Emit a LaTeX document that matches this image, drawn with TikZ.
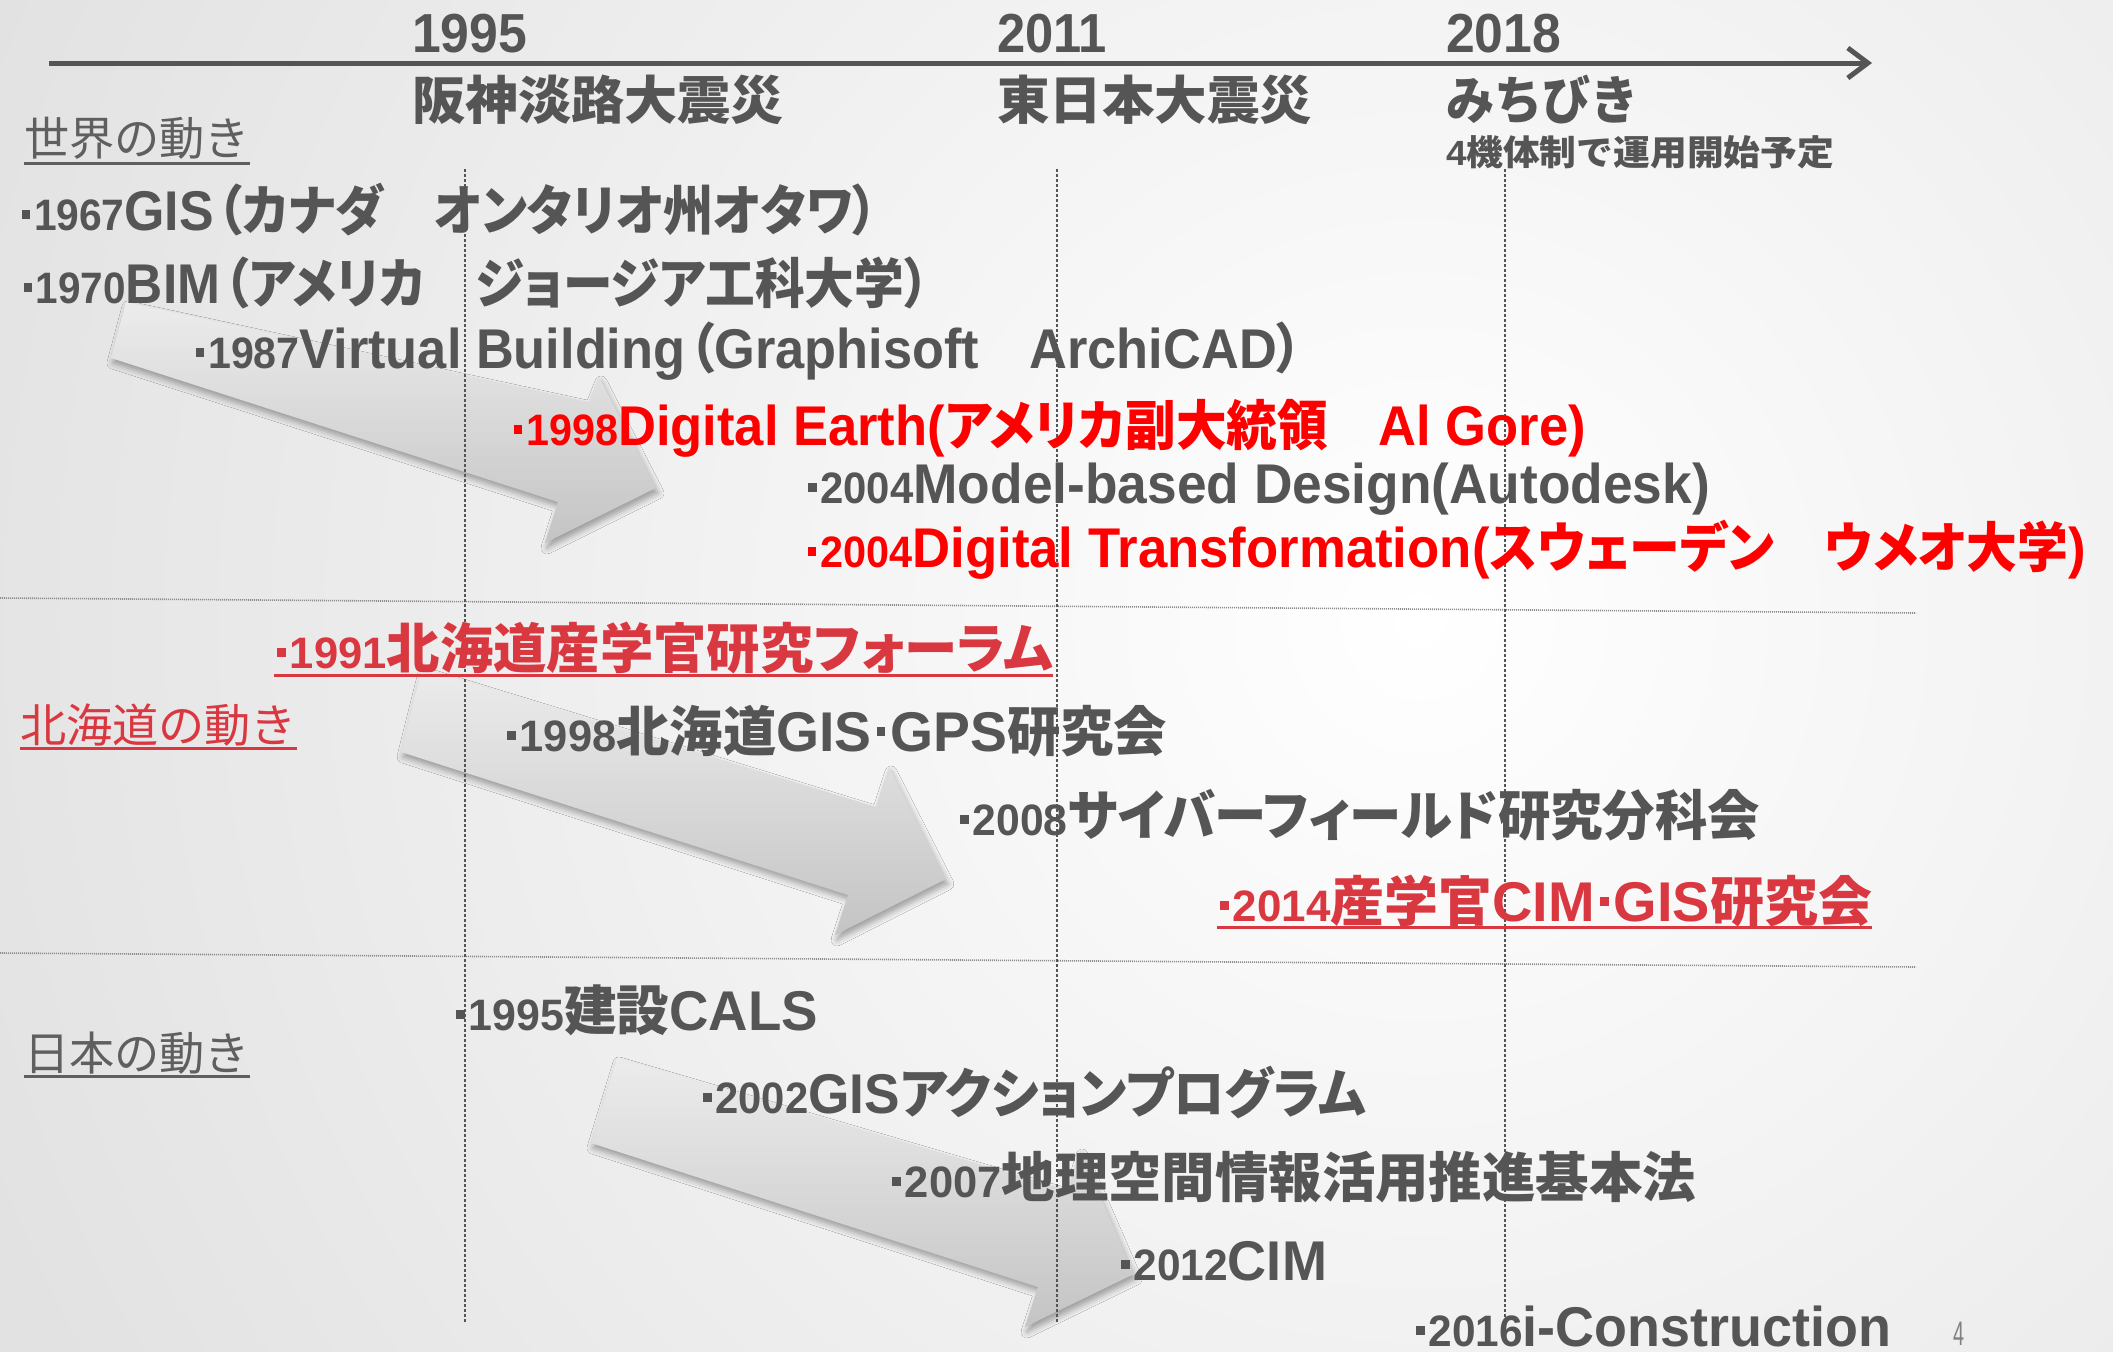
\documentclass[tikz,border=0pt]{standalone}
\usepackage{fontspec}
\usepackage{graphicx}
\setmainfont{Liberation Sans}
\newfontfamily\jp[RawFeature=+palt]{Noto Sans CJK JP}
\newfontfamily\jpl{Noto Sans CJK JP}
\usetikzlibrary{arrows.meta,shadows.blur}
\definecolor{tgray}{RGB}{85,85,85}
\definecolor{lgray}{RGB}{95,95,95}
\definecolor{tred}{RGB}{255,0,0}
\definecolor{hred}{RGB}{217,56,64}
\definecolor{bgout}{RGB}{226,226,226}
\definecolor{arrA}{RGB}{236,236,236}
\definecolor{arrB}{RGB}{196,196,196}
\newcommand\J[1]{{\fontsize{54}{54}\selectfont\jp #1}}
\newcommand\bul{\rule[11.5pt]{9pt}{9pt}\hspace{4pt}}
\newcommand\Yr[1]{{\fontsize{44}{44}\selectfont\bul #1}}
\newcommand\mdot{\hspace{5pt}\rule[15.5pt]{9pt}{9pt}\hspace{5pt}}
\newcommand\fitw[2]{\resizebox{#1pt}{\height}{#2}}
\tikzset{
  txt/.style={anchor=base west, inner sep=0pt, outer sep=0pt, text=tgray,
    font=\fontsize{56}{56}\selectfont\bfseries},
  hdr/.style={anchor=base west, inner sep=0pt, outer sep=0pt, text=tgray,
    font=\fontsize{55}{55}\selectfont\bfseries},
  hdrj/.style={anchor=base west, inner sep=0pt, outer sep=0pt, text=tgray,
    font=\fontsize{52}{52}\selectfont\bfseries\jpl},
  lbl/.style={anchor=base west, inner sep=0pt, outer sep=0pt, text=lgray,
    font=\fontsize{46}{46}\selectfont\jpl},
  ul/.style={line width=3pt},
  vgrid/.style={draw=tgray, line width=1.6pt, dash pattern=on 2.5pt off 2.5pt},
  hgrid/.style={draw=black!45, line width=1.6pt, dash pattern=on 1pt off 1pt},
  bigarrow/.style={top color=arrA, bottom color=arrB, draw=none,
    blur shadow={shadow xshift=2pt, shadow yshift=-5pt, shadow blur radius=6pt, shadow opacity=35}},
}
\begin{document}
\begin{tikzpicture}[x=1pt,y=-1pt]
\useasboundingbox (0,0) rectangle (2113,1352);
% background
\fill[bgout] (0,0) rectangle (2113,1352);
\begin{scope}
\clip (0,0) rectangle (2113,1352);
\shade[inner color=white, outer color=bgout] (1420,620) circle (1550);
\end{scope}

% big gray arrows
\shade[bigarrow] (126,302) -- (589,402) -- (599,377) -- (656,488) -- (545,543) -- (558,502) -- (111,358) -- cycle;
\shade[bigarrow] (422,668) -- (876,807) -- (889,767) -- (946,879) -- (835,935) -- (848,895) -- (401,752) -- cycle;
\shade[bigarrow] (617,1058) -- (1068,1190) -- (1080,1150) -- (1134,1274) -- (1025,1327) -- (1038,1287) -- (591,1143) -- cycle;

% grid lines
\draw[hgrid] (0,598) -- (1916,613);
\draw[hgrid] (0,953) -- (1916,967);
\draw[vgrid] (465,169) -- (465,1322);
\draw[vgrid] (1057,169) -- (1057,1322);
\draw[vgrid] (1505,169) -- (1505,1322);

% timeline
\coordinate (tlS) at (49,63);
\coordinate (tlE) at (1872,63);
\draw[draw=tgray, line width=5pt, -{Straight Barb[length=20pt,width=30pt]}] (tlS) -- (tlE);

% header
\node[hdr] (y1) at (412,52) {\fitw{115}{1995}};
\node[hdr] (y2) at (997,52) {\fitw{110}{2011}};
\node[hdr] (y3) at (1446,52) {\fitw{115}{2018}};
\node[hdrj] (e1) at (412,119) {\fitw{372}{阪神淡路大震災}};
\node[hdrj] (e2) at (997,119) {\fitw{315}{東日本大震災}};
\node[hdrj] (e3) at (1446,119) {\fitw{193}{みちびき}};
\node[txt, font=\fontsize{35}{35}\selectfont\bfseries] (e4) at (1446,165) {\fitw{388}{4{\jpl 機体制で運用開始予定}}};

% section labels
\node[lbl] (l1) at (24,155) {\fitw{226}{世界の動き}};
\draw[ul, lgray] ([yshift=-8pt]l1.base west) -- ([yshift=-8pt]l1.base east);
\node[lbl, text=hred] (l2) at (20,742) {\fitw{277}{北海道の動き}};
\draw[ul, hred] ([yshift=-6pt]l2.base west) -- ([yshift=-6pt]l2.base east);
\node[lbl] (l3) at (24,1070) {\fitw{226}{日本の動き}};
\draw[ul, lgray] ([yshift=-6pt]l3.base west) -- ([yshift=-6pt]l3.base east);

% world
\node[txt] (w1) at (22,230) {\fitw{856}{\Yr{1967}GIS\hspace{4pt}\J{（カナダ　オンタリオ州オタワ）}}};
\node[txt] (w2) at (24,303) {\fitw{905}{\Yr{1970}BIM\hspace{4pt}\J{（アメリカ　ジョージア工科大学）}}};
\node[txt] (w3) at (196,368) {\fitw{1106}{\Yr{1987}Virtual Building\hspace{4pt}\J{（}Graphisoft\J{　}ArchiCAD\J{）}}};
\node[txt, text=tred] (w4) at (514,445) {\fitw{1072}{\Yr{1998}Digital Earth(\J{アメリカ副大統領　}Al Gore)}};
\node[txt] (w5) at (808,503) {\fitw{902}{\Yr{2004}Model-based Design(Autodesk)}};
\node[txt, text=tred] (w6) at (808,567) {\fitw{1278}{\Yr{2004}Digital Transformation(\J{スウェーデン　ウメオ大学})}};

% hokkaido
\node[txt, text=hred] (h1) at (277,668) {\fitw{776}{\Yr{1991}\J{北海道産学官研究フォーラム}}};
\draw[ul, hred] ([xshift=-3pt,yshift=-7pt]h1.base west) -- ([yshift=-7pt]h1.base east);
\node[txt] (h2) at (507,751) {\fitw{660}{\Yr{1998}\J{北海道}GIS\mdot GPS\J{研究会}}};
\node[txt] (h3) at (960,835) {\fitw{800}{\Yr{2008}\J{サイバーフィールド研究分科会}}};
\node[txt, text=hred] (h4) at (1220,921) {\fitw{652}{\Yr{2014}\J{産学官}CIM\mdot GIS\J{研究会}}};
\draw[ul, hred] ([xshift=-3pt,yshift=-6pt]h4.base west) -- ([yshift=-6pt]h4.base east);

% japan
\node[txt] (j1) at (456,1030) {\fitw{362}{\Yr{1995}\J{建設}CALS}};
\node[txt] (j2) at (703,1113) {\fitw{663}{\Yr{2002}GIS\J{アクションプログラム}}};
\node[txt] (j3) at (892,1197) {\fitw{804}{\Yr{2007}\J{地理空間情報活用推進基本法}}};
\node[txt] (j4) at (1121,1280) {\fitw{206}{\Yr{2012}CIM}};
\node[txt] (j5) at (1416,1346) {\fitw{475}{\Yr{2016}i-Construction}};

% page number
\node[anchor=base west, inner sep=0pt, text=black!50, font=\fontsize{34}{34}\selectfont] (pg) at (1953,1345) {\fitw{11}{4}};
\end{tikzpicture}
\end{document}
